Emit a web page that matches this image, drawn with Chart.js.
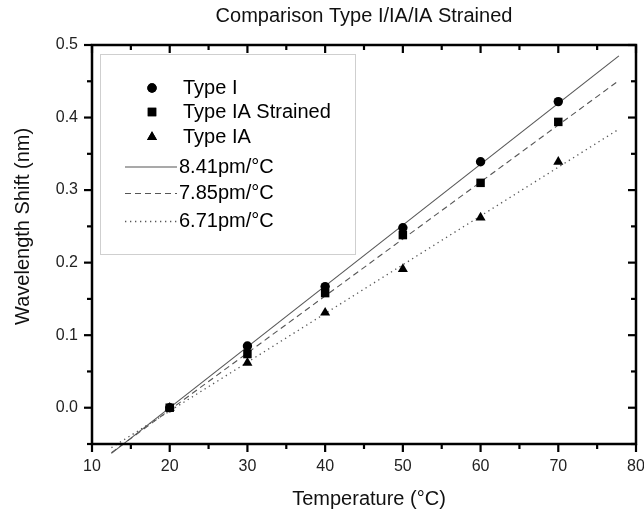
<!DOCTYPE html>
<html>
<head>
<meta charset="utf-8">
<script src="https://cdn.jsdelivr.net/npm/chart.js@4"></script>
<style>
html,body{margin:0;padding:0;background:#fff;}
#wrap{width:644px;height:512px;position:relative;}
</style>
</head>
<body>
<div id="wrap"><canvas id="c" width="644" height="512"></canvas></div>
<script>
// ---- data ----
const TITLE = 'Comparison Type I/IA/IA Strained';
const X_TITLE = 'Temperature (°C)';
const Y_TITLE = 'Wavelength Shift (nm)';
const temps = [20, 30, 40, 50, 60, 70];
const typeI = [0.000, 0.085, 0.167, 0.248, 0.339, 0.422];
const typeIAStrained = [0.000, 0.074, 0.158, 0.238, 0.310, 0.394];
const typeIA = [0.000, 0.062, 0.131, 0.191, 0.262, 0.339];
// fitted lines: endpoints
const fitX = [12.5, 77.8];
const fitI = [-0.063, 0.485];
const fitIAS = [-0.062, 0.451];
const fitIA = [-0.055, 0.384];
const seriesLabels = ['Type I', 'Type IA Strained', 'Type IA'];
const fitLabels = ['8.41pm/°C', '7.85pm/°C', '6.71pm/°C'];
const xTicks = [10, 20, 30, 40, 50, 60, 70, 80];
const xMinor = [15, 25, 35, 45, 55, 65, 75];
const yTicks = [0.0, 0.1, 0.2, 0.3, 0.4, 0.5];
const yMinor = [-0.05, 0.05, 0.15, 0.25, 0.35, 0.45];

const FONT = '"Liberation Sans", Arial, Helvetica, sans-serif';
const pts = (xs, ys) => xs.map((x, i) => ({x: x, y: ys[i]}));

const LINE_COLOR = '#555555';
const datasets = [
  {label: seriesLabels[0], data: pts(temps, typeI), pointStyle: 'circle', pointRadius: 4.7, backgroundColor: '#000', borderColor: '#000', borderWidth: 0, showLine: false},
  {label: seriesLabels[1], data: pts(temps, typeIAStrained), pointStyle: 'rect', pointRadius: 6, backgroundColor: '#000', borderColor: '#000', borderWidth: 0, showLine: false},
  {label: seriesLabels[2], data: pts(temps, typeIA), pointStyle: 'triangle', pointRadius: 5.8, backgroundColor: '#000', borderColor: '#000', borderWidth: 0, showLine: false},
  {label: fitLabels[0], data: pts(fitX, fitI), showLine: true, pointRadius: 0, borderColor: LINE_COLOR, borderWidth: 1.1, borderDash: [], clip: false},
  {label: fitLabels[1], data: pts(fitX, fitIAS), showLine: true, pointRadius: 0, borderColor: LINE_COLOR, borderWidth: 1.1, borderDash: [6, 4], clip: false},
  {label: fitLabels[2], data: pts(fitX, fitIA), showLine: true, pointRadius: 0, borderColor: LINE_COLOR, borderWidth: 1.3, borderDash: [1.3, 3.7], clip: false}
];

const framePlugin = {
  id: 'frame',
  beforeDatasetsDraw(chart) {
    const ctx = chart.ctx;
    ctx.save();
    ctx.strokeStyle = '#cfcfcf';
    ctx.lineWidth = 1;
    ctx.strokeRect(100.5, 54.5, 255, 200);
    ctx.restore();
  },
  afterDraw(chart) {
    const ctx = chart.ctx;
    const a = chart.chartArea;
    const xs = chart.scales.x, ys = chart.scales.y;
    ctx.save();
    // title
    ctx.fillStyle = '#111';
    ctx.font = '20px ' + FONT;
    ctx.textAlign = 'center';
    ctx.textBaseline = 'middle';
    ctx.fillText(TITLE, (a.left + a.right) / 2, 16);
    // y title
    ctx.save();
    ctx.translate(23, (ys.getPixelForValue(0) + ys.getPixelForValue(0.5)) / 2);
    ctx.rotate(-Math.PI / 2);
    ctx.font = '20px ' + FONT;
    ctx.fillText(Y_TITLE, 0, 0);
    ctx.restore();
    // x title
    ctx.font = '20px ' + FONT;
    ctx.fillText(X_TITLE, (a.left + a.right) / 2 + 5, 499);

    // frame
    ctx.strokeStyle = '#000';
    ctx.lineWidth = 2.5;
    ctx.strokeRect(a.left, a.top, a.right - a.left, a.bottom - a.top);
    // ticks
    ctx.lineWidth = 2.2;
    const MAJ = 8, MIN = 5;
    const vt = (px, y0, y1) => { ctx.beginPath(); ctx.moveTo(px, y0); ctx.lineTo(px, y1); ctx.stroke(); };
    const ht = (py, x0, x1) => { ctx.beginPath(); ctx.moveTo(x0, py); ctx.lineTo(x1, py); ctx.stroke(); };
    xTicks.forEach(v => { const p = xs.getPixelForValue(v); vt(p, a.bottom, a.bottom + MAJ); vt(p, a.top, a.top + MAJ); });
    xMinor.forEach(v => { const p = xs.getPixelForValue(v); vt(p, a.bottom, a.bottom + MIN); vt(p, a.top, a.top + MIN); });
    yTicks.forEach(v => { const p = ys.getPixelForValue(v); ht(p, a.left - MAJ, a.left); ht(p, a.right - MAJ, a.right); });
    yMinor.forEach(v => { const p = ys.getPixelForValue(v); ht(p, a.left - MIN, a.left); ht(p, a.right - MIN, a.right); });

    // legend
    const rowsY = [88, 112, 137, 167, 193.5, 221.5];
    const markerX = 152, textX1 = 183, textX2 = 179;
    ctx.font = '20px ' + FONT;
    ctx.textAlign = 'left';
    ctx.fillStyle = '#000';
    chart.data.datasets.forEach((ds, i) => {
      const y = rowsY[i];
      if (!ds.showLine) {
        Chart.helpers.drawPoint(ctx, {pointStyle: ds.pointStyle, radius: ds.pointRadius, borderWidth: 0, rotation: 0}, markerX, y);
        ctx.fillStyle = '#000';
        ctx.fill();
        ctx.fillText(ds.label, textX1, y);
      } else {
        ctx.save();
        ctx.strokeStyle = ds.borderColor;
        ctx.lineWidth = ds.borderWidth;
        ctx.setLineDash(ds.borderDash);
        ctx.beginPath(); ctx.moveTo(125, y); ctx.lineTo(177, y); ctx.stroke();
        ctx.restore();
        ctx.fillText(ds.label, textX2, y);
      }
    });
    ctx.restore();
  }
};

new Chart(document.getElementById('c'), {
  type: 'scatter',
  data: {datasets: datasets},
  options: {
    responsive: false,
    animation: false,
    layout: {padding: {top: 45, right: 8, left: 0, bottom: 0}},
    plugins: {legend: {display: false}, tooltip: {enabled: false}, title: {display: false}},
    scales: {
      x: {
        type: 'linear', min: 10, max: 80,
        afterBuildTicks: s => { s.ticks = xTicks.map(v => ({value: v})); },
        afterFit: s => { s.height = 68; s.paddingLeft = 0; s.paddingRight = 0; },
        grid: {display: false, drawTicks: false},
        border: {display: false},
        ticks: {padding: 13, color: '#222', font: {family: FONT, size: 16}, maxRotation: 0, autoSkip: false, callback: v => String(v)}
      },
      y: {
        type: 'linear', min: -0.05, max: 0.5,
        afterBuildTicks: s => { s.ticks = yTicks.map(v => ({value: v})); },
        afterFit: s => { s.width = 92; s.paddingTop = 0; s.paddingBottom = 0; },
        grid: {display: false, drawTicks: false},
        border: {display: false},
        ticks: {padding: 14, color: '#222', font: {family: FONT, size: 16}, autoSkip: false, callback: v => Number(v).toFixed(1)}
      }
    }
  },
  plugins: [framePlugin]
});
</script>
</body>
</html>
